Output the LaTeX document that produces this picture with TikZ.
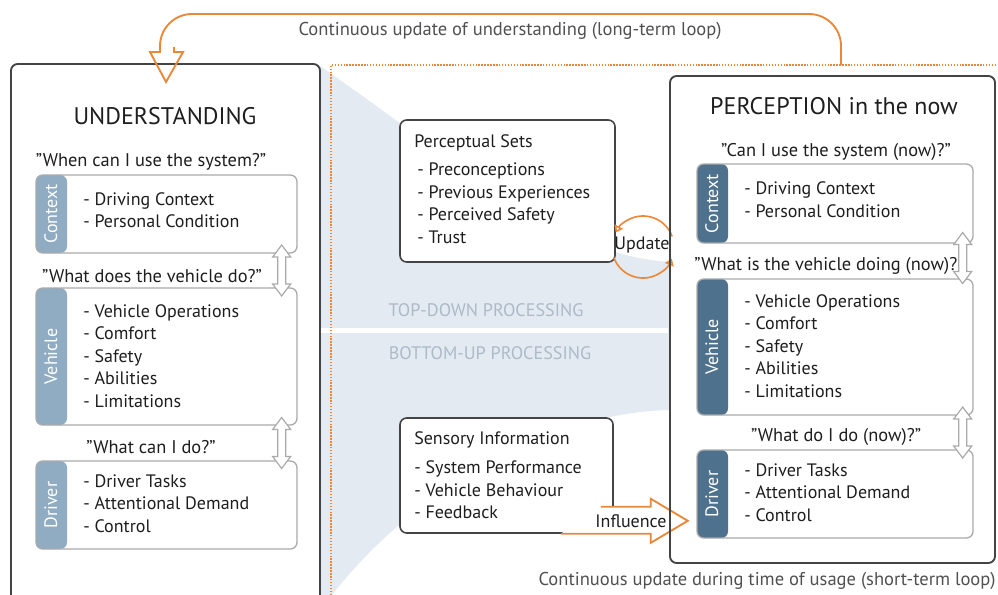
\documentclass[tikz,border=0pt]{standalone}
\usepackage{fontspec}
\setmainfont{PT Sans}
\usetikzlibrary{arrows.meta, positioning, fit, calc}
\definecolor{framegray}{RGB}{68,68,68}
\definecolor{boxgray}{RGB}{170,170,170}
\definecolor{lightstrip}{RGB}{143,172,194}
\definecolor{darkstrip}{RGB}{78,113,141}
\definecolor{loopcolor}{RGB}{234,136,56}
\definecolor{funnelblue}{RGB}{227,234,241}
\definecolor{proctext}{RGB}{172,186,200}
\definecolor{captiongray}{RGB}{80,80,80}
\definecolor{textdark}{RGB}{30,30,30}
\tikzset{
  bigbox/.style={draw=framegray, line width=1.4pt, rounded corners=5pt, inner sep=0pt},
  setsbox/.style={draw=framegray, line width=1.2pt, rounded corners=5pt,
    inner sep=0pt, fill=white},
  catbox/.style={draw=boxgray, line width=1pt, rounded corners=5pt,
    inner sep=0pt, fill=white,
    path picture={\fill[#1] (path picture bounding box.north west)
      rectangle ([xshift=23.25pt]path picture bounding box.south west);}},
  striplabel/.style={rotate=90, text=white, inner sep=0pt,
    font=\fontsize{13.5}{15}\selectfont},
  items/.style={anchor=west, align=left, inner sep=0pt, text=textdark,
    font=\fontsize{13.5}{16.9}\selectfont},
  question/.style={inner sep=0pt, text=textdark, font=\fontsize{13.8}{16}\selectfont},
  heading/.style={inner sep=0pt, text=textdark, font=\fontsize{18}{20}\selectfont},
  loopcaption/.style={inner sep=0pt, text=captiongray, font=\fontsize{13.9}{16}\selectfont},
  proc/.style={inner sep=0pt, text=proctext, font=\fontsize{13.6}{15}\selectfont},
  loopline/.style={draw=loopcolor, line width=1.4pt, line join=miter},
  dotframe/.style={draw=loopcolor, line width=1.3pt, dash pattern=on 1.1pt off 1.1pt},
  updarc/.style={draw=loopcolor, line width=1.2pt,
    -{Triangle[open, length=5pt, width=7pt]}},
  swaparrow/.pic={
    \draw[draw=boxgray, fill=white, line width=0.9pt]
      (0,-25.5) -- (9,-13.5) -- (4,-13.5) -- (4,13.5) -- (9,13.5) -- (0,25.5)
      -- (-9,13.5) -- (-4,13.5) -- (-4,-13.5) -- (-9,-13.5) -- cycle;
  }
}

\begin{document}
\begin{tikzpicture}[x=0.75pt, y=-0.75pt]
  \clip (0,0) rectangle (998,594);

  % funnel between the two halves
  \fill[funnelblue] (320,66) .. controls (470,170) and (560,255) .. (670,262)
    -- (670,410) .. controls (560,412) and (420,480) .. (328,600) -- (320,600) -- cycle;
  \fill[white] (320,327.5) rectangle (668,332.5);
  \node[proc] (topdown) at (486,310) {TOP-DOWN PROCESSING};
  \node[proc] (bottomup) at (490,353) {BOTTOM-UP PROCESSING};

  % short-term loop frame
  \draw[dotframe] (1005,65) -| (331,600);

  % left: understanding
  \node[bigbox, fill=white, fit={(11,64) (320,640)}] (und) {};
  \node[heading] at (165,116) {UNDERSTANDING};

  \node[question] at (151,162) {"When can I use the system?"};
  \node[catbox=lightstrip, fit={(36,175) (297,253)}] (lctx) {};
  \node[striplabel] at ($(lctx.west)+(15.5,0)$) {Context};
  \node[items] at (83,210) {- Driving Context\\- Personal Condition};

  \node[question] at (152,276) {"What does the vehicle do?"};
  \node[catbox=lightstrip, fit={(36,288) (297,425)}] (lveh) {};
  \node[striplabel] at ($(lveh.west)+(15.5,0)$) {Vehicle};
  \node[items] at (83,356) {- Vehicle Operations\\- Comfort\\- Safety\\- Abilities\\- Limitations};

  \node[question] at (151,447) {"What can I do?"};
  \node[catbox=lightstrip, fit={(36,461) (297,549)}] (ldrv) {};
  \node[striplabel] at ($(ldrv.west)+(15.5,0)$) {Driver};
  \node[items] at (83,503.5) {- Driver Tasks\\- Attentional Demand\\- Control};

  \pic at ($(lctx.south east)!0.5!(lveh.north east)+(-16,0)$) {swaparrow};
  \pic at ($(lveh.south east)!0.5!(ldrv.north east)+(-16,0)$) {swaparrow};

  % middle: perceptual sets and sensory input
  \node[setsbox, fit={(400,120) (615,262)}] (sets) {};
  \node[items] at (414,143) {Perceptual Sets};
  \node[items] at (417,203) {- Preconceptions\\- Previous Experiences\\- Perceived Safety\\- Trust};

  \node[setsbox, fit={(400,418) (613,533)}] (sens) {};
  \node[items] at (414,440) {Sensory Information};
  \node[items] at (414,490) {- System Performance\\- Vehicle Behaviour\\- Feedback};

  % update cycle
  \node[items, anchor=center] (upd) at (642,245) {Update};
  \begin{scope}[y=0.75pt]
    \draw[updarc] ($(upd.center)+(1,-2)+(20:31)$) arc[start angle=20, end angle=152, radius=31];
    \draw[updarc] ($(upd.center)+(1,-2)+(200:31)$) arc[start angle=200, end angle=338, radius=31];
  \end{scope}

  % influence arrow
  \coordinate (inflbase) at ($(sens.south east)+(-53,0)$);
  \draw[loopline, fill=white] (inflbase) -- ++(90,0) -- ++(0,9) -- ++(37,-22)
    -- ++(-37,-22) -- ++(0,8) -- ++(-50,0);
  \node[items, anchor=center] at (631,521) {Influence};

  % right: perception in the now
  \node[bigbox, fit={(670,76) (995,563)}] (per) {};
  \node[heading] at (834,106) {PERCEPTION in the now};

  \node[question] at (836,152) {"Can I use the system (now)?"};
  \node[catbox=darkstrip, fit={(697,164) (973,243)}] (rctx) {};
  \node[striplabel] at ($(rctx.west)+(15.5,0)$) {Context};
  \node[items] at (744,199.5) {- Driving Context\\- Personal Condition};

  \node[question] at (829,266) {"What is the vehicle doing (now)?"};
  \node[catbox=darkstrip, fit={(697,279) (973,415)}] (rveh) {};
  \node[striplabel] at ($(rveh.west)+(15.5,0)$) {Vehicle};
  \node[items] at (744,346) {- Vehicle Operations\\- Comfort\\- Safety\\- Abilities\\- Limitations};

  \node[question] at (836,437) {"What do I do (now)?"};
  \node[catbox=darkstrip, fit={(697,450) (973,538)}] (rdrv) {};
  \node[striplabel] at ($(rdrv.west)+(15.5,0)$) {Driver};
  \node[items] at (744,492.5) {- Driver Tasks\\- Attentional Demand\\- Control};

  \pic at ($(rctx.south east)!0.5!(rveh.north east)+(-11,-3)$) {swaparrow};
  \pic at ($(rveh.south east)!0.5!(rdrv.north east)+(-11,0)$) {swaparrow};

  % long-term loop back to understanding
  \coordinate (ltstart) at (841,65);
  \coordinate (lttip) at (166,82);
  \draw[loopline, rounded corners=24pt] (ltstart) |- ($(lttip)+(-6,-68)$)
    [sharp corners] -- ++(0,38) -- ++(-10,0) -- (lttip) -- ++(17,-30)
    -- ++(-9,0) -- ++(0,-5);
  \node[loopcaption] at (510,31) {Continuous update of understanding (long-term loop)};
  \node[loopcaption] at (767,581) {Continuous update during time of usage (short-term loop)};
\end{tikzpicture}
\end{document}
